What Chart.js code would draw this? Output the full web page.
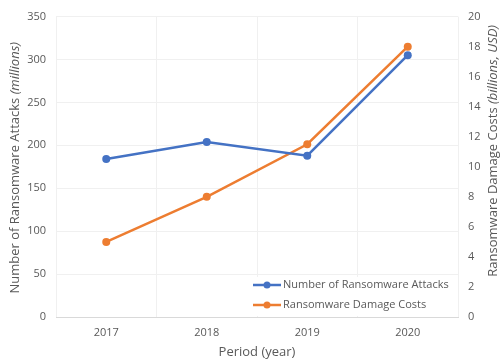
<!DOCTYPE html>
<html>
<head>
<meta charset="utf-8">
<script src="https://cdn.jsdelivr.net/npm/chart.js@4"></script>
<style>
  html, body { margin: 0; padding: 0; background: #fff; }
  #wrap { width: 504px; height: 362px; }
</style>
</head>
<body>
<div id="wrap"><canvas id="chart" width="504" height="362"></canvas></div>
<script>
const years = ["2017", "2018", "2019", "2020"];
const attacks = [184, 204, 188, 305];      // millions
const damageCosts = [5, 8, 11.5, 18];     // billions USD
const attacksTicks = [0, 50, 100, 150, 200, 250, 300, 350];
const costTicks = [0, 2, 4, 6, 8, 10, 12, 14, 16, 18, 20];

const FONT = "'Open Sans', 'Liberation Sans', sans-serif";
const TEXT = "#595959";
const BLUE = "#4472C4";
const ORANGE = "#ED7D31";

// draws a title made of plain + italic parts, optionally rotated
function drawMixed(ctx, parts, x, y, angle, size) {
  ctx.save();
  ctx.translate(x, y);
  ctx.rotate(angle);
  ctx.fillStyle = TEXT;
  ctx.textBaseline = "middle";
  let total = 0;
  parts.forEach(p => {
    ctx.font = (p.italic ? "italic " : "") + size + "px " + FONT;
    total += ctx.measureText(p.text).width;
  });
  let cx = -total / 2;
  parts.forEach(p => {
    ctx.font = (p.italic ? "italic " : "") + size + "px " + FONT;
    ctx.textAlign = "left";
    ctx.fillText(p.text, cx, 0);
    cx += ctx.measureText(p.text).width;
  });
  ctx.restore();
}

const titlesAndLegend = {
  id: "titlesAndLegend",
  afterDraw(chart) {
    const ctx = chart.ctx;
    const area = chart.chartArea;
    const midY = (area.top + area.bottom) / 2;
    drawMixed(ctx, [{ text: "Number of Ransomware Attacks " }, { text: "(millions)", italic: true }],
      15, midY + 1, -Math.PI / 2, 13);
    drawMixed(ctx, [{ text: "Ransomware Damage Costs " }, { text: "(billions, USD)", italic: true }],
      493, midY - 16, -Math.PI / 2, 13);
    drawMixed(ctx, [{ text: "Period (year)" }], (area.left + area.right) / 2, 352, 0, 13);

    // legend box in the lower right of the plot
    const bx = 252, by = 277, bw = area.right - 1 - bx, bh = area.bottom - 1 - by;
    ctx.save();
    ctx.fillStyle = "#fff";
    ctx.fillRect(bx, by, bw, bh);
    chart.data.datasets.forEach((ds, i) => {
      const ry = 285 + i * 20;
      ctx.strokeStyle = ds.borderColor;
      ctx.lineWidth = 2.5;
      ctx.beginPath();
      ctx.moveTo(bx + 1, ry);
      ctx.lineTo(bx + 29, ry);
      ctx.stroke();
      ctx.fillStyle = ds.borderColor;
      ctx.beginPath();
      ctx.arc(bx + 15, ry, 3.5, 0, Math.PI * 2);
      ctx.fill();
      ctx.fillStyle = TEXT;
      ctx.font = "11px " + FONT;
      ctx.textAlign = "left";
      ctx.textBaseline = "middle";
      ctx.fillText(ds.label, bx + 31, ry);
    });
    ctx.restore();
  }
};

new Chart(document.getElementById("chart"), {
  type: "line",
  data: {
    labels: years,
    datasets: [
      {
        label: "Number of Ransomware Attacks",
        data: attacks,
        yAxisID: "y",
        borderColor: BLUE,
        backgroundColor: BLUE,
        borderWidth: 2.5,
        pointRadius: 4,
        pointBorderWidth: 0,
        pointHoverRadius: 4,
        tension: 0
      },
      {
        label: "Ransomware Damage Costs",
        data: damageCosts,
        yAxisID: "y1",
        borderColor: ORANGE,
        backgroundColor: ORANGE,
        borderWidth: 2.5,
        pointRadius: 4,
        pointBorderWidth: 0,
        pointHoverRadius: 4,
        tension: 0
      }
    ]
  },
  options: {
    responsive: false,
    animation: false,
    layout: { padding: { top: 15, left: 0, right: 0, bottom: 0 } },
    plugins: {
      legend: { display: false },
      tooltip: { enabled: false }
    },
    scales: {
      x: {
        offset: true,
        grid: { offset: true, color: "#f0f0f0", drawTicks: false },
        border: { color: "#d9d9d9" },
        ticks: { color: TEXT, font: { family: FONT, size: 11 }, padding: 9 },
        afterFit(scale) { scale.height = 45; }
      },
      y: {
        position: "left",
        min: 0,
        max: 350,
        afterBuildTicks(scale) { scale.ticks = attacksTicks.map(v => ({ value: v })); },
        grid: { color: "#f0f0f0", drawTicks: false },
        border: { display: false },
        ticks: { color: TEXT, font: { family: FONT, size: 11 }, padding: 10 },
        afterFit(scale) { scale.width = 56; }
      },
      y1: {
        position: "right",
        min: 0,
        max: 20,
        afterBuildTicks(scale) { scale.ticks = costTicks.map(v => ({ value: v })); },
        grid: { display: false, drawTicks: false },
        border: { display: false },
        ticks: { color: TEXT, font: { family: FONT, size: 11 }, padding: 10 },
        afterFit(scale) { scale.width = 46; }
      }
    }
  },
  plugins: [titlesAndLegend]
});
</script>
</body>
</html>
